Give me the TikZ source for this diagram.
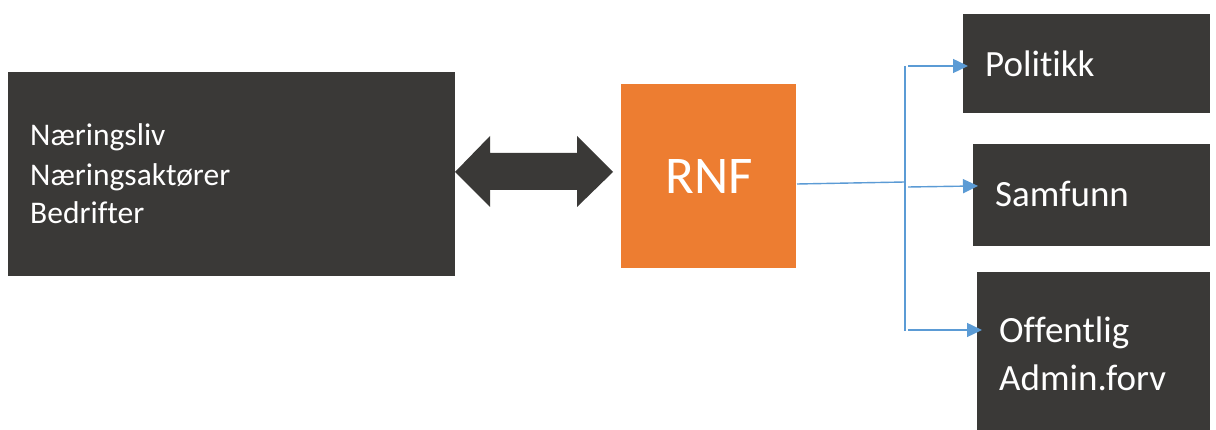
\documentclass[tikz,border=0pt]{standalone}
\usepackage{fontspec}
\setmainfont[Ligatures=NoCommon]{Carlito}
\usetikzlibrary{arrows.meta,calc}
\definecolor{dk}{HTML}{3A3937}
\definecolor{org}{HTML}{ED7D31}
\definecolor{blu}{HTML}{5B9BD5}
\begin{document}
\begin{tikzpicture}[x=1pt,y=-1pt,
  box/.style={fill=dk,draw=none,inner sep=0pt,outer sep=0pt,anchor=north west},
  rnfbox/.style={fill=org,draw=none,inner sep=0pt,outer sep=0pt,anchor=north west},
  txt/.style={text=white,inner sep=0pt,anchor=base west},
  link/.style={draw=blu,line width=1.4pt},
  tip/.style={-{Triangle[length=15pt,width=14pt]},shorten >=-5pt}]
\useasboundingbox (0,0) rectangle (1216,430);
\fill[white] (0,0) rectangle (1216,430);
% boxes
\node[box,minimum width=447pt,minimum height=204pt] (left) at (8,72) {};
\node[rnfbox,minimum width=175pt,minimum height=184pt] (rnf) at (621,84) {};
\node[box,minimum width=247pt,minimum height=99pt] (pol) at (963,14) {};
\node[box,minimum width=237pt,minimum height=102pt] (sam) at (973,144) {};
\node[box,minimum width=233pt,minimum height=158pt] (off) at (977,272) {};
% texts
\node[txt,font=\fontsize{31.5}{39}\selectfont] (t1) at (30,146) {Næringsliv};
\node[txt,font=\fontsize{31.5}{39}\selectfont] (t2) at (30,186) {Næringsaktører};
\node[txt,font=\fontsize{31.5}{39}\selectfont] (t3) at (30,224) {Bedrifter};
\node[txt,anchor=base,font=\fontsize{53}{60}\selectfont] (t4) at (709.5,194) {RNF};
\node[txt,font=\fontsize{37}{44}\selectfont] (t5) at (985,77) {Politikk};
\node[txt,font=\fontsize{37}{44}\selectfont] (t6) at (995,207) {Samfunn};
\node[txt,font=\fontsize{37}{44}\selectfont] (t7) at (999,343) {Offentlig};
\node[txt,font=\fontsize{37}{44}\selectfont] (t8) at (999,390) {Admin.forv};
% double block arrow
\fill[dk] (455,172) -- (490,136) -- (490,153) -- (577,153) -- (577,136) -- (613,172)
  -- (577,207) -- (577,190) -- (490,190) -- (490,207) -- cycle;
% connectors
\coordinate (s0) at (797,184);
\coordinate (j0) at (905,182);
\coordinate (jt) at (905,66);
\coordinate (jb) at (905,331);
\coordinate (b1) at (908,66);
\coordinate (b2) at (908,187);
\coordinate (b3) at (908,330);
\draw[link] (s0) -- (j0);
\draw[link] (jt) -- (jb);
\draw[link,tip] (b1) -- (pol.west |- b1);
\draw[link,tip] (b2) -- ($(sam.west |- b2)+(0,-1)$);
\draw[link,tip] (b3) -- (off.west |- b3);
\end{tikzpicture}
\end{document}
